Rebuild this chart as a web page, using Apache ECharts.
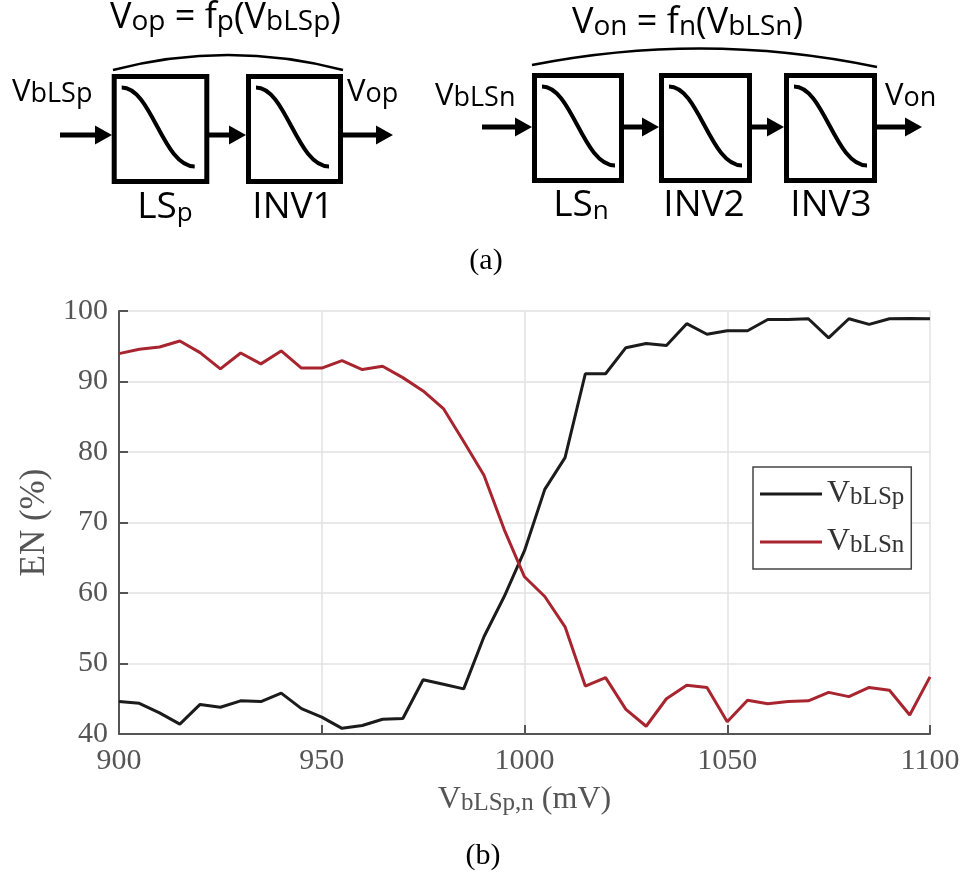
<!DOCTYPE html>
<html><head><meta charset="utf-8">
<script src="https://cdn.jsdelivr.net/npm/echarts@6/dist/echarts.min.js"></script>
<style>html,body{margin:0;padding:0;background:#fff}#c{width:967px;height:886px}</style>
</head><body><div id="c"></div>
<script>
// ---- data ----
const voltages = [900,905,910,915,920,925,930,935,940,945,950,955,960,965,970,975,980,985,990,995,1000,
                  1005,1010,1015,1020,1025,1030,1035,1040,1045,1050,1055,1060,1065,1070,1075,1080,1085,1090,1095,1100];
const enP = [44.6,44.35,43.0,41.4,44.2,43.8,44.7,44.6,45.8,43.6,42.4,40.8,41.2,42.1,42.2,47.7,47.05,46.4,53.8,59.5,66.0,
             74.7,79.2,91.1,91.1,94.8,95.4,95.1,98.2,96.7,97.2,97.2,98.8,98.8,98.9,96.2,98.9,98.1,98.9,98.95,98.9];
const enN = [93.95,94.57,94.9,95.75,94.1,91.8,94.05,92.5,94.33,91.9,91.9,92.96,91.7,92.16,90.55,88.66,86.16,81.5,76.7,69.0,62.3,
             59.5,55.2,46.8,48.0,43.5,41.1,45.0,46.9,46.6,41.75,44.8,44.3,44.6,44.7,45.9,45.3,46.6,46.2,42.7,48.1];
const seriesNames = ['VbLSp', 'VbLSn'];
const xRange = [900, 1100, 50];
const yRange = [40, 100, 10];

const SERIF = '"Liberation Serif","Times New Roman",serif';
const SANS = '"Open Sans","Noto Sans",sans-serif';
const GREY = '#555';

// ---- diagram helpers (layout only) ----
const K = 0.42;
function richLabel(x, capTop, parts, M, S, drop, align) {
  const L = drop + M * (0.5 + K) + S * (0.5 - K);
  const y = capTop - (M * (0.5 + K) - 0.714 * M);
  const text = parts.map(p => (p[1] ? '{s|' : '{m|') + p[0] + '}').join('');
  return {
    type: 'text', x: x, y: y, silent: true,
    style: {
      text: text, align: align || 'left', verticalAlign: 'top', fill: '#000',
      rich: {
        m: { fontSize: M, fontFamily: SANS, lineHeight: M, verticalAlign: 'top', fill: '#000' },
        s: { fontSize: S, fontFamily: SANS, lineHeight: S, verticalAlign: 'bottom', fill: '#000' }
      },
      lineHeight: L
    }
  };
}
function box(L, T, R, B) {
  const sx = L + 10, sy = T + 13.5, ex = L + 83, ey = T + 92.5;
  return [
    { type: 'rect', silent: true, shape: { x: L + 2.5, y: T + 2.5, width: R - L - 5, height: B - T - 5 },
      style: { fill: '#fff', stroke: '#000', lineWidth: 5 } },
    { type: 'bezierCurve', silent: true,
      shape: { x1: sx, y1: sy, cpx1: sx + 30, cpy1: sy, cpx2: ex - 32, cpy2: ey, x2: ex, y2: ey },
      style: { fill: 'none', stroke: '#000', lineWidth: 4 } }
  ];
}
function arrow(x0, tip, y) {
  return [
    { type: 'line', silent: true, shape: { x1: x0, y1: y, x2: tip - 14, y2: y }, style: { stroke: '#000', lineWidth: 5 } },
    { type: 'polygon', silent: true, shape: { points: [[tip - 17, y - 9.5], [tip, y], [tip - 17, y + 9.5]] },
      style: { fill: '#000' } }
  ];
}
function bracket(x1, y1, x2, y2, cx, cy) {
  return { type: 'bezierCurve', silent: true,
    shape: { x1: x1, y1: y1, x2: x2, y2: y2, cpx1: cx, cpy1: cy },
    style: { fill: 'none', stroke: '#000', lineWidth: 2.5 } };
}

const diagram = [].concat(
  box(111.7, 74, 209.3, 184), box(246, 74, 343, 184),
  arrow(60, 112, 135), arrow(209, 246, 135), arrow(343, 393, 135),
  bracket(113, 70, 343, 70, 228, 40),
  box(532, 73, 624, 183), box(659, 73, 752, 183), box(784, 73, 877, 183),
  arrow(482, 532, 127), arrow(624, 659, 127), arrow(752, 784, 127), arrow(877, 922, 127),
  bracket(532, 65, 877, 67, 705, 31),
  [
    richLabel(110, 7, [['V'], ['op', 1], [' = f'], ['p', 1], ['(V'], ['bLSp', 1], [')']], 36, 28, 8),
    richLabel(572, 12, [['V'], ['on', 1], [' = f'], ['n', 1], ['(V'], ['bLSn', 1], [')']], 36, 28, 8),
    richLabel(12, 83, [['V'], ['bLSp', 1]], 31, 27, 10),
    richLabel(347, 83, [['V'], ['op', 1]], 31, 27, 10),
    richLabel(435, 87, [['V'], ['bLSn', 1]], 31, 27, 8),
    richLabel(885, 87, [['V'], ['on', 1]], 31, 27, 8),
    richLabel(165, 197, [['LS'], ['p', 1]], 37, 26, 3, 'center'),
    richLabel(293, 197, [['INV1']], 37, 26, 3, 'center'),
    richLabel(581, 195, [['LS'], ['n', 1]], 37, 26, 3, 'center'),
    richLabel(704, 195, [['INV2']], 37, 26, 3, 'center'),
    richLabel(831, 195, [['INV3']], 37, 26, 3, 'center'),
    { type: 'text', x: 486, y: 261, silent: true,
      style: { text: '(a)', fontSize: 30, fontFamily: SERIF, fill: '#000', align: 'center', verticalAlign: 'middle' } },
    { type: 'text', x: 483, y: 856, silent: true,
      style: { text: '(b)', fontSize: 30, fontFamily: SERIF, fill: '#000', align: 'center', verticalAlign: 'middle' } }
  ]
);

const chart = echarts.init(document.getElementById('c'));
const pairs = arr => voltages.map((v, i) => [v, arr[i]]);

chart.setOption({
  backgroundColor: '#fff',
  animation: false,
  grid: { left: 119, right: 37, top: 311, bottom: 152, containLabel: false },
  legend: {
    data: seriesNames, orient: 'vertical', left: 753, top: 467,
    padding: [11, 7, 11, 7], itemGap: 16, itemWidth: 62, itemHeight: 3, icon: 'rect',
    borderColor: '#444', borderWidth: 1.5, backgroundColor: '#fff',
    formatter: name => '{v|V}{s|' + name.slice(1) + '}',
    textStyle: {
      lineHeight: 36,
      rich: {
        v: { fontSize: 32, fontFamily: SERIF, color: '#333', lineHeight: 32, verticalAlign: 'top' },
        s: { fontSize: 25, fontFamily: SERIF, color: '#333', lineHeight: 25, verticalAlign: 'bottom' }
      }
    }
  },
  xAxis: {
    type: 'value', min: xRange[0], max: xRange[1], interval: xRange[2],
    name: '{v|V}{s|bLSp,n}{v| (mV)}', nameLocation: 'middle', nameGap: 50,
    nameTextStyle: {
      lineHeight: 40,
      rich: {
        v: { fontSize: 32, fontFamily: SERIF, color: GREY, lineHeight: 32, verticalAlign: 'top' },
        s: { fontSize: 25, fontFamily: SERIF, color: GREY, lineHeight: 25, verticalAlign: 'bottom' }
      }
    },
    axisLine: { lineStyle: { color: GREY, width: 2 } },
    axisTick: { inside: true, length: 9, lineStyle: { color: GREY, width: 2 } },
    axisLabel: { fontSize: 30, fontFamily: SERIF, color: GREY, margin: 12, formatter: v => String(v) },
    splitLine: { show: true, lineStyle: { color: '#e2e2e2', width: 1.5 } }
  },
  yAxis: {
    type: 'value', min: yRange[0], max: yRange[1], interval: yRange[2],
    name: 'EN (%)', nameLocation: 'middle', nameGap: 55,
    nameTextStyle: { fontSize: 35, fontFamily: SERIF, color: GREY },
    axisLine: { show: true, lineStyle: { color: GREY, width: 2 } },
    axisTick: { show: true, inside: true, length: 9, lineStyle: { color: GREY, width: 2 } },
    axisLabel: { fontSize: 30, fontFamily: SERIF, color: GREY, margin: 11 },
    splitLine: { show: true, lineStyle: { color: '#e2e2e2', width: 1.5 } }
  },
  series: [
    { name: seriesNames[0], type: 'line', data: pairs(enP), symbol: 'none', color: '#1b1b1b',
      lineStyle: { color: '#1b1b1b', width: 3 } },
    { name: seriesNames[1], type: 'line', data: pairs(enN), symbol: 'none', color: '#a8252f',
      lineStyle: { color: '#a8252f', width: 3 } }
  ],
  graphic: { elements: diagram }
});
</script>
</body></html>
